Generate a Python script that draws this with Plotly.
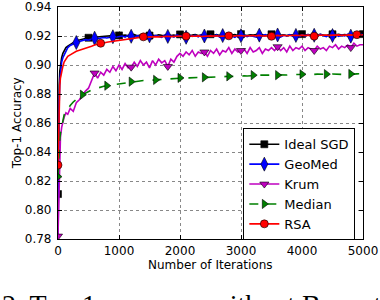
import plotly.graph_objects as go

# Iterations at which accuracy was sampled
iterations = [0, 10, 20, 30, 40, 60, 80, 100, 130, 160, 200] + list(range(250, 5001, 50))

ideal_sgd = [0.811, 0.862, 0.886, 0.896, 0.901, 0.905, 0.908, 0.910, 0.912, 0.913, 0.914,
    0.9155, 0.9168, 0.9172, 0.9180, 0.9183, 0.9188, 0.9190, 0.9193, 0.9192, 0.9197, 0.9199, 0.9196, 0.9201, 0.9203, 0.9200, 0.9204,
    0.9203, 0.9207, 0.9201, 0.9205, 0.9209, 0.9202, 0.9206, 0.9204, 0.9210, 0.9203,
    0.9206, 0.9201, 0.9208, 0.9205, 0.9203, 0.9209, 0.9204, 0.9207, 0.9202, 0.9211,
    0.9205, 0.9208, 0.9203, 0.9206, 0.9210, 0.9204, 0.9207, 0.9202, 0.9208, 0.9212,
    0.9205, 0.9209, 0.9204, 0.9207, 0.9203, 0.9208, 0.9206, 0.9210, 0.9204, 0.9213,
    0.9207, 0.9204, 0.9209, 0.9206, 0.9210, 0.9205, 0.9208, 0.9203, 0.9209, 0.9212,
    0.9206, 0.9210, 0.9205, 0.9208, 0.9204, 0.9209, 0.9207, 0.9211, 0.9205, 0.9213,
    0.9207, 0.9210, 0.9205, 0.9209, 0.9206, 0.9211, 0.9207, 0.9204, 0.9210, 0.9212,
    0.9208, 0.9211, 0.9206, 0.9210, 0.9207, 0.9212, 0.9209, 0.9206, 0.9211, 0.9213]

geomed = [0.775, 0.845, 0.875, 0.889, 0.896, 0.902, 0.905, 0.907, 0.910, 0.912, 0.9135,
    0.9148, 0.9155, 0.9162, 0.9170, 0.9175, 0.9172, 0.9180, 0.9185, 0.9182, 0.9188, 0.9190, 0.9186, 0.9193, 0.9195, 0.9191, 0.9197,
    0.9200, 0.9193, 0.9205, 0.9198, 0.9190, 0.9203, 0.9196, 0.9207, 0.9194, 0.9201,
    0.9192, 0.9204, 0.9198, 0.9190, 0.9206, 0.9197, 0.9202, 0.9193, 0.9208, 0.9199,
    0.9203, 0.9191, 0.9206, 0.9198, 0.9204, 0.9195, 0.9209, 0.9200, 0.9192, 0.9205,
    0.9198, 0.9207, 0.9193, 0.9203, 0.9196, 0.9209, 0.9199, 0.9191, 0.9205, 0.9202,
    0.9208, 0.9195, 0.9203, 0.9199, 0.9192, 0.9206, 0.9201, 0.9210, 0.9196, 0.9204,
    0.9199, 0.9207, 0.9193, 0.9205, 0.9200, 0.9210, 0.9197, 0.9204, 0.9194, 0.9207,
    0.9201, 0.9209, 0.9196, 0.9205, 0.9199, 0.9211, 0.9202, 0.9195, 0.9208, 0.9203,
    0.9210, 0.9198, 0.9206, 0.9201, 0.9212, 0.9199, 0.9207, 0.9203, 0.9213, 0.9208]

krum = [0.782, 0.805, 0.828, 0.842, 0.850, 0.857, 0.861, 0.864, 0.867, 0.866, 0.870,
    0.868, 0.874, 0.876, 0.879, 0.882, 0.884, 0.889, 0.8945, 0.891, 0.895, 0.893, 0.897, 0.895, 0.899, 0.896, 0.900,
    0.897, 0.901, 0.898, 0.8985, 0.902, 0.899, 0.903, 0.900, 0.902, 0.898,
    0.903, 0.900, 0.904, 0.9015, 0.903, 0.899, 0.904, 0.902, 0.906, 0.908,
    0.906, 0.909, 0.907, 0.910, 0.906, 0.909, 0.908, 0.909, 0.906, 0.910,
    0.908, 0.911, 0.907, 0.910, 0.909, 0.912, 0.908, 0.911, 0.909, 0.910,
    0.911, 0.908, 0.912, 0.909, 0.910, 0.912, 0.908, 0.911, 0.910, 0.912,
    0.910, 0.9126, 0.910, 0.912, 0.909, 0.913, 0.910, 0.912, 0.911, 0.913,
    0.910, 0.912, 0.911, 0.910, 0.913, 0.911, 0.912, 0.910, 0.913, 0.912,
    0.914, 0.911, 0.913, 0.912, 0.9138, 0.912, 0.915, 0.913, 0.914, 0.914]

median = [0.823, 0.835, 0.843, 0.849, 0.853, 0.858, 0.862, 0.8655, 0.868, 0.870, 0.872,
    0.8745, 0.8765, 0.878, 0.8795, 0.8808, 0.8818, 0.8828, 0.8835, 0.8842, 0.8848, 0.8853, 0.8857, 0.8860, 0.8866, 0.8868, 0.8873,
    0.8876, 0.8879, 0.8881, 0.8885, 0.8886, 0.8889, 0.8890, 0.8893, 0.8893, 0.8896,
    0.8895, 0.8897, 0.8899, 0.8901, 0.8903, 0.8904, 0.8906, 0.8907, 0.8909, 0.8911,
    0.8910, 0.8912, 0.8911, 0.8913, 0.8912, 0.8914, 0.8913, 0.8915, 0.8916, 0.8915,
    0.8917, 0.8918, 0.8917, 0.8920, 0.8919, 0.8922, 0.8921, 0.8923, 0.8922, 0.8924,
    0.8925, 0.8924, 0.8927, 0.8930, 0.8928, 0.8930, 0.8929, 0.8931, 0.8930, 0.8932,
    0.8931, 0.8930, 0.8932, 0.8933, 0.8931, 0.8934, 0.8933, 0.8935, 0.8934, 0.8936,
    0.8935, 0.8934, 0.8936, 0.8935, 0.8937, 0.8936, 0.8935, 0.8937, 0.8936, 0.8938,
    0.8936, 0.8937, 0.8935, 0.8937, 0.8936, 0.8938, 0.8937, 0.8939, 0.8938, 0.8940]

rsa = [0.831, 0.862, 0.878, 0.886, 0.891, 0.896, 0.899, 0.902, 0.904, 0.906, 0.907,
    0.9085, 0.9095, 0.9102, 0.9108, 0.9115, 0.9122, 0.9130, 0.9138, 0.9144, 0.9150, 0.9153, 0.9157, 0.9160, 0.9163, 0.9166, 0.9169,
    0.9172, 0.9176, 0.9178, 0.9182, 0.9184, 0.9187, 0.9190, 0.9194, 0.9192, 0.9195,
    0.9193, 0.9196, 0.9194, 0.9197, 0.9195, 0.9198, 0.9196, 0.9199, 0.9197, 0.9200,
    0.9197, 0.9199, 0.9196, 0.9200, 0.9198, 0.9201, 0.9197, 0.9200, 0.9198, 0.9201,
    0.9199, 0.9202, 0.9198, 0.9200, 0.9197, 0.9201, 0.9199, 0.9202, 0.9200, 0.9203,
    0.9200, 0.9202, 0.9199, 0.9203, 0.9201, 0.9204, 0.9200, 0.9203, 0.9201, 0.9198,
    0.9202, 0.9204, 0.9201, 0.9205, 0.9202, 0.9204, 0.9201, 0.9205, 0.9203, 0.9206,
    0.9203, 0.9206, 0.9202, 0.9199, 0.9204, 0.9206, 0.9203, 0.9207, 0.9204, 0.9206,
    0.9205, 0.9208, 0.9204, 0.9207, 0.9205, 0.9208, 0.9206, 0.9209, 0.9207, 0.9209]

series_names = ["Ideal SGD", "GeoMed", "Krum", "Median", "RSA"]
series_values = [ideal_sgd, geomed, krum, median, rsa]
mark_every = [500, 300, 600, 400, 700]

colors = ["#000000", "#0000ff", "#bf00bf", "#008000", "#ff0000"]
symbols = ["square", "diamond-tall", "triangle-down", "triangle-right", "circle"]
msizes = [7, 10, 8, 8, 8]
dashes = ["solid", "solid", "solid", "dash", "solid"]

fig = go.Figure()
for name, vals, every, c, sym, ms, dash in zip(series_names, series_values, mark_every,
                                                 colors, symbols, msizes, dashes):
    fig.add_trace(go.Scatter(x=iterations, y=vals, mode="lines",
                             line=dict(color=c, width=1.6, dash=dash),
                             showlegend=False, hoverinfo="skip"))
    mx = [x for x in iterations if x % every == 0]
    my = [v for x, v in zip(iterations, vals) if x % every == 0]
    fig.add_trace(go.Scatter(x=mx, y=my, mode="markers",
                             marker=dict(symbol=sym, size=ms, color=c,
                                         line=dict(color="#000000", width=0.6)),
                             showlegend=False, hoverinfo="skip"))

for name, c, sym, ms, dash in zip(series_names, colors, symbols, msizes, dashes):
    fig.add_trace(go.Scatter(x=[None], y=[None], mode="lines+markers", name=name,
                             line=dict(color=c, width=1.6, dash=dash),
                             marker=dict(symbol=sym, size=ms, color=c,
                                         line=dict(color="#000000", width=0.6))))

font_family = "DejaVu Sans"
fig.update_layout(
    width=380, height=300,
    margin=dict(l=58, r=17, t=7, b=61, autoexpand=False),
    paper_bgcolor="white", plot_bgcolor="white",
    font=dict(family=font_family, size=12, color="black"),
    showlegend=True,
    legend=dict(x=0.607, y=0.478, xanchor="left", yanchor="top",
                bgcolor="white", bordercolor="black", borderwidth=1.2,
                font=dict(family=font_family, size=13, color="black"),
                tracegroupgap=0, itemwidth=30),
    xaxis=dict(range=[0, 5000], tickvals=[0, 1000, 2000, 3000, 4000, 5000],
               automargin=False,
               showgrid=True, gridcolor="#888888", griddash="dot", gridwidth=1,
               showline=True, linecolor="black", linewidth=1.2, mirror="ticks",
               ticks="inside", ticklen=4, tickcolor="black", zeroline=False,
               tickfont=dict(family=font_family, size=12)),
    yaxis=dict(range=[0.78, 0.94], tickvals=[0.78, 0.80, 0.82, 0.84, 0.86, 0.88, 0.90, 0.92, 0.94],
               tickformat=".2f", automargin=False,
               showgrid=True, gridcolor="#888888", griddash="dot", gridwidth=1,
               showline=True, linecolor="black", linewidth=1.2, mirror="ticks",
               ticks="inside", ticklen=4, tickcolor="black", zeroline=False,
               ticklabelstandoff=3,
               tickfont=dict(family=font_family, size=12)),
    annotations=[
        dict(text="Number of Iterations", xref="paper", yref="paper", x=0.5, y=-0.112,
             xanchor="center", yanchor="middle", showarrow=False,
             font=dict(family=font_family, size=12)),
        dict(text="Top-1 Accuracy", xref="paper", yref="paper", x=-0.134, y=0.5,
             xanchor="center", yanchor="middle", textangle=-90, showarrow=False,
             font=dict(family=font_family, size=12)),
        dict(text="2. Top-1 accuracy without Byzantine attacks", xref="paper", yref="paper",
             x=-0.19, y=-0.209, xanchor="left", yanchor="top", showarrow=False,
             font=dict(family="Liberation Serif", size=28)),
    ],
)

fig.write_html("out.html", config={"displayModeBar": False},
               post_script="document.body.style.margin='0';document.body.style.padding='0';")
